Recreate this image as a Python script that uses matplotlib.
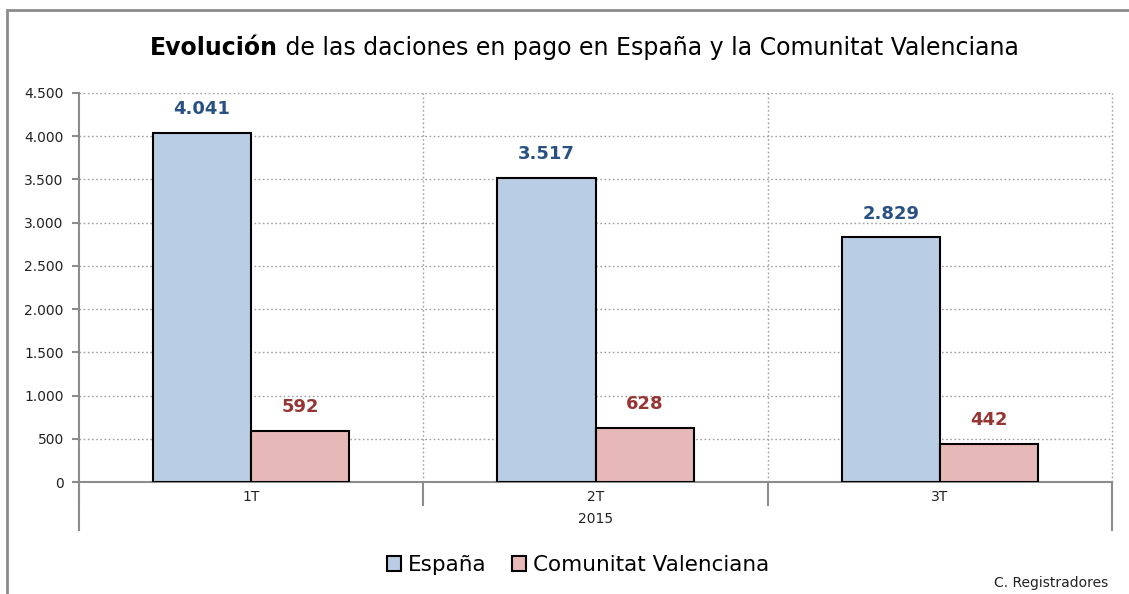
import matplotlib.pyplot as plt
import numpy as np
from matplotlib.patches import Rectangle

quarters = ["1T", "2T", "3T"]
year_label = "2015"
espana = [4041, 3517, 2829]
valencia = [592, 628, 442]
series_names = ["España", "Comunitat Valenciana"]
yticks = [0, 500, 1000, 1500, 2000, 2500, 3000, 3500, 4000, 4500]

blue_fill = "#B9CDE5"
red_fill = "#E6B9B8"
blue_txt = "#2A5183"
red_txt = "#963634"
grey = "#8C8C8C"

plt.rcParams["font.family"] = ["DejaVu Sans"]

fig = plt.figure(figsize=(11.29, 5.94), dpi=100)
ax = fig.add_axes([79 / 1129, 112 / 594, 1033 / 1129, 389 / 594])

x = np.arange(len(quarters))
w = 0.285
b1 = ax.bar(x - w / 2, espana, w, color=blue_fill, edgecolor="black", linewidth=1.5, zorder=3)
b2 = ax.bar(x + w / 2, valencia, w, color=red_fill, edgecolor="black", linewidth=1.5, zorder=3)

fmt = lambda v: f"{v:,.0f}".replace(",", ".")
for bars, vals, col in [(b1, espana, blue_txt), (b2, valencia, red_txt)]:
    for r, v in zip(bars, vals):
        ax.annotate(fmt(v), (r.get_x() + r.get_width() / 2, v), xytext=(0, 17),
                    textcoords="offset points", ha="center", va="center",
                    fontsize=13, fontweight="bold", color=col)

ax.set_xlim(-0.5, 2.5)
ax.set_ylim(0, 4500)
ax.set_yticks(yticks)
ax.set_yticklabels([fmt(v) for v in yticks], fontsize=10, color="#222222")
ax.tick_params(axis="y", direction="out", length=5, color=grey, width=1.5, pad=6)

# category boundaries as major ticks, labels on minor ticks
ax.set_xticks([-0.5, 0.5, 1.5, 2.5])
ax.set_xticklabels([])
ax.set_xticks(x, minor=True)
ax.set_xticklabels(quarters, minor=True, fontsize=10, color="#222222")
ax.tick_params(axis="x", which="major", direction="out", length=17, color=grey, width=1.5)
ax.tick_params(axis="x", which="minor", length=0, pad=6)

dots = (0, (1.2, 1.8))
ax.grid(axis="y", linestyle=dots, color="#A0A0A0", linewidth=1, zorder=0)
for xv in [0.5, 1.5, 2.5]:
    ax.axvline(xv, linestyle=dots, color="#A0A0A0", linewidth=1, zorder=0, clip_on=False)

for s in ["top", "right"]:
    ax.spines[s].set_visible(False)
for s in ["left", "bottom"]:
    ax.spines[s].set_color(grey)
    ax.spines[s].set_linewidth(1.5)

# outer lines of the two-level category axis
xt = ax.get_xaxis_transform()
for xv in [-0.5, 2.5]:
    ax.plot([xv, xv], [0, -48 / 389], transform=xt, color=grey, lw=1.5, clip_on=False)
ax.text(1, -37 / 389, year_label, transform=xt, ha="center", va="center", fontsize=10, color="#222222")

# title with bold first word
t1 = fig.text(0, 546 / 594, "Evolución", fontsize=17, fontweight="bold", va="center")
t2 = fig.text(0, 546 / 594, " de las daciones en pago en España y la Comunitat Valenciana",
              fontsize=17, va="center")
fig.canvas.draw()
r = fig.canvas.get_renderer()
w1 = t1.get_window_extent(r).width
w2 = t2.get_window_extent(r).width
start = 584 - (w1 + w2) / 2
t1.set_x(start / 1129)
t2.set_x((start + w1) / 1129)

leg = fig.legend([b1, b2], series_names, loc="center", bbox_to_anchor=(578 / 1129, 29 / 594),
                 ncol=2, frameon=False, fontsize=15.5, handlelength=0.65, handleheight=0.65,
                 handletextpad=0.3, columnspacing=1.2)

fig.text(1108 / 1129, 11 / 594, "C. Registradores", ha="right", va="center", fontsize=10, color="#222222")

fig.patches.append(Rectangle((7 / 1129, -0.1), 1.2, 584 / 594 + 0.1, transform=fig.transFigure,
                             fill=False, edgecolor=grey, linewidth=2, clip_on=False))

fig.savefig("out.png", dpi=100)
